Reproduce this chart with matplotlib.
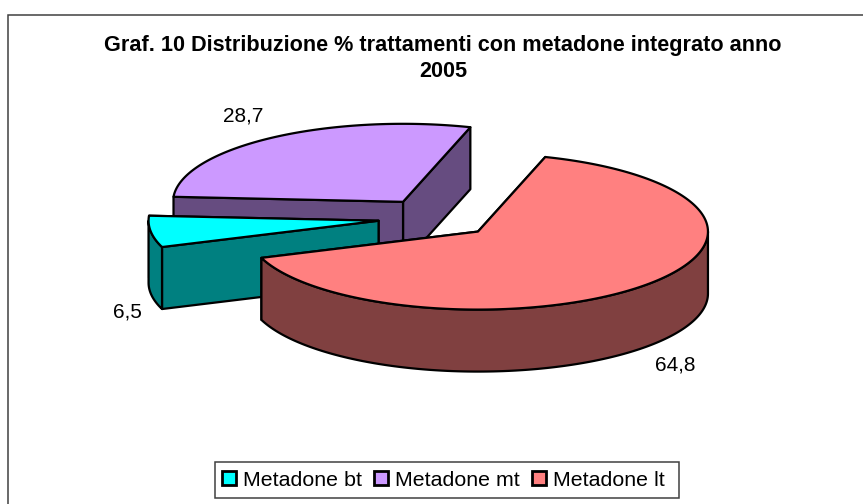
import numpy as np
import matplotlib
matplotlib.use("Agg")
import matplotlib.pyplot as plt
from matplotlib.patches import Polygon, Rectangle, Patch

plt.rcParams['font.family'] = ['Liberation Sans', 'DejaVu Sans']

title = "Graf. 10 Distribuzione % trattamenti con metadone integrato anno\n2005"
labels = ["Metadone bt", "Metadone mt", "Metadone lt"]
values = [6.5, 28.7, 64.8]
top_colors = ["#00FFFF", "#CC99FF", "#FF8080"]
side_colors = ["#008080", "#664C80", "#804040"]

# pie geometry, in pixels of the 863x504 picture
CX, CY = 436, 218
RX, RY = 230, 78
DEPTH = 62
EXPLODE = 58
START = 199.7
LW = 1.6


def arc(cx, cy, a0, a1, dy=0):
    t = np.radians(np.linspace(a0, a1, 200))
    return np.column_stack([cx + RX*np.cos(t), cy - RY*np.sin(t) + dy])


def draw_slice(ax, a0, a1, top, side, z):
    """a0 > a1, the slice runs clockwise"""
    mid = np.radians((a0 + a1)/2)
    cx = CX + EXPLODE*np.cos(mid)
    cy = CY - EXPLODE*RY/RX*np.sin(mid)
    kw = dict(edgecolor='black', linewidth=LW, joinstyle='round', zorder=z)

    # flat walls of the cut, the one further back goes first
    for a in sorted((a0, a1), key=lambda d: -np.sin(np.radians(d))):
        p = arc(cx, cy, a, a, 0)[0]
        wall = [(cx, cy), p, (p[0], p[1]+DEPTH), (cx, cy+DEPTH)]
        ax.add_patch(Polygon(wall, closed=True, facecolor=side, **kw))

    # outer wall, only the front half of the ellipse shows
    lo, hi = a1 % 360, a0 % 360
    if lo > hi:
        lo -= 360
    for shift in (0, -360):
        f0 = max(lo, 180 + shift)
        f1 = min(hi, 360 + shift)
        if f0 < f1:
            upper = arc(cx, cy, f0, f1)
            lower = arc(cx, cy, f1, f0, DEPTH)
            ax.add_patch(Polygon(np.vstack([upper, lower]), closed=True,
                                 facecolor=side, **kw))

    edge = arc(cx, cy, a0, a1)
    ax.add_patch(Polygon(np.vstack([[(cx, cy)], edge]), closed=True,
                         facecolor=top, **kw))


fig = plt.figure(figsize=(8.63, 5.04), dpi=100)
ax = fig.add_axes([0, 0, 1, 1])
ax.set_xlim(0, 863)
ax.set_ylim(504, 0)
ax.axis('off')

ax.add_patch(Rectangle((8, 15), 1000, 1000, facecolor='white',
                       edgecolor='#404040', linewidth=1.1, zorder=0))

angles = START - np.cumsum([0] + [v*3.6 for v in values])
for z, i in enumerate([1, 0, 2]):
    draw_slice(ax, angles[i], angles[i+1], top_colors[i], side_colors[i], z + 1)

ax.text(443, 58.5, title, ha='center', va='center', fontsize=15.6, fontweight='bold',
        linespacing=1.33, color='black')

label_pos = [(127, 312), (243, 116), (675, 365)]
for v, (x, y) in zip(values, label_pos):
    ax.text(x, y, f"{v:.1f}".replace('.', ','), ha='center', va='center',
            fontsize=15, color='black', zorder=10)

# legend box is wider on the right than on the left, so it gets its own frame
ax.add_patch(Rectangle((215, 462), 464, 36, facecolor='white',
                       edgecolor='#404040', linewidth=1.1, zorder=9))
handles = [Patch(facecolor=c, edgecolor='black', linewidth=2.0) for c in top_colors]
leg = ax.legend(handles, labels, ncol=3, loc='center left',
                bbox_to_anchor=(222, 480), bbox_transform=ax.transData,
                fontsize=15.4, frameon=False, handlelength=0.66, handleheight=0.62,
                handletextpad=0.3, columnspacing=0.59, borderpad=0,
                borderaxespad=0)
leg.set_zorder(10)

fig.savefig('out.png', dpi=100, facecolor='white')
